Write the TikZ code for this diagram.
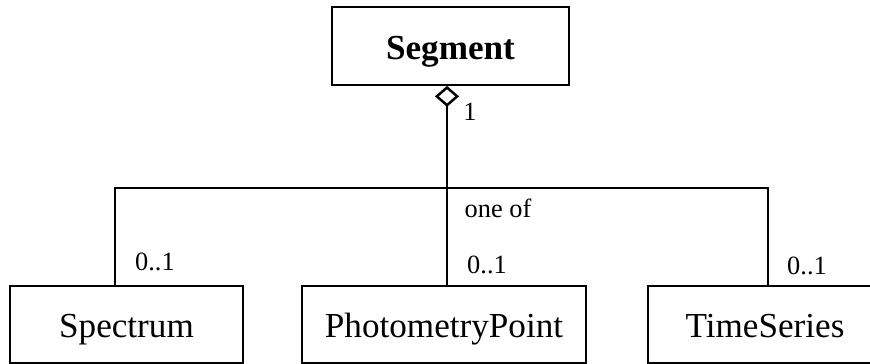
\documentclass[tikz,border=0pt]{standalone}
\usepackage{fontspec}
\setmainfont{Liberation Serif}
\usepackage{tikz}
\usetikzlibrary{calc}
\usetikzlibrary{positioning}
\usetikzlibrary{arrows.meta}
\tikzset{
  myclass/.style={
    draw=black,
    shape=rectangle,
    line width=1pt,
    align=center,
    inner sep=0pt,
    text height=0.54cm,
    text depth=0pt,
    minimum height=1.54cm,
    font=\fontsize{20}{24}\selectfont
  },
  mylabel/.style={
    inner sep=0pt,
    font=\fontsize{15}{18}\selectfont
  },
  myline/.style={
    draw=black,
    line width=1pt,
  },
  myaggregation/.style={
    myline,
    {Diamond[open, length=0.42cm, width=0.48cm, line width=1.4pt]}-,
  }
}

\begin{document}
\begin{tikzpicture}[x=0.02cm, y=-0.02cm]
    \useasboundingbox (0,0) rectangle (870,364);

    \node [myclass, minimum width=4.74cm, minimum height=1.56cm, font=\fontsize{20}{24}\selectfont\bfseries] (Segment) at (450.5, 46) {Segment};

    \node [myclass, minimum width=4.66cm] (Spectrum) at (126.5, 324.5) {Spectrum};
    \node [myclass, minimum width=5.68cm] (PhotometryPoint) at (444.0, 324.5) {PhotometryPoint};
    \node [myclass, minimum width=4.68cm] (TimeSeries) at (765.0, 324.5) {TimeSeries};

    % Bar joining the three choices
    \coordinate (junction) at (447, 188);
    \coordinate (bar west) at (115, 188);
    \coordinate (bar east) at (768, 188);

    \draw [myaggregation] (Segment.south -| junction) -- (junction);
    \draw [myline] (junction) -- (PhotometryPoint.north -| junction);
    \draw [myline] (Spectrum.north -| bar west) -- (bar west) -- (bar east) -- (TimeSeries.north -| bar east);

    % Multiplicities
    \node [mylabel] (one) at (470, 112) {1};
    \node [mylabel] (oneof) at (498, 208) {one of};
    \node [mylabel] (mult spectrum) at (155, 262) {0..1};
    \node [mylabel] (mult photometry) at (487, 265) {0..1};
    \node [mylabel] (mult timeseries) at (807, 266) {0..1};
  \end{tikzpicture}
\end{document}
